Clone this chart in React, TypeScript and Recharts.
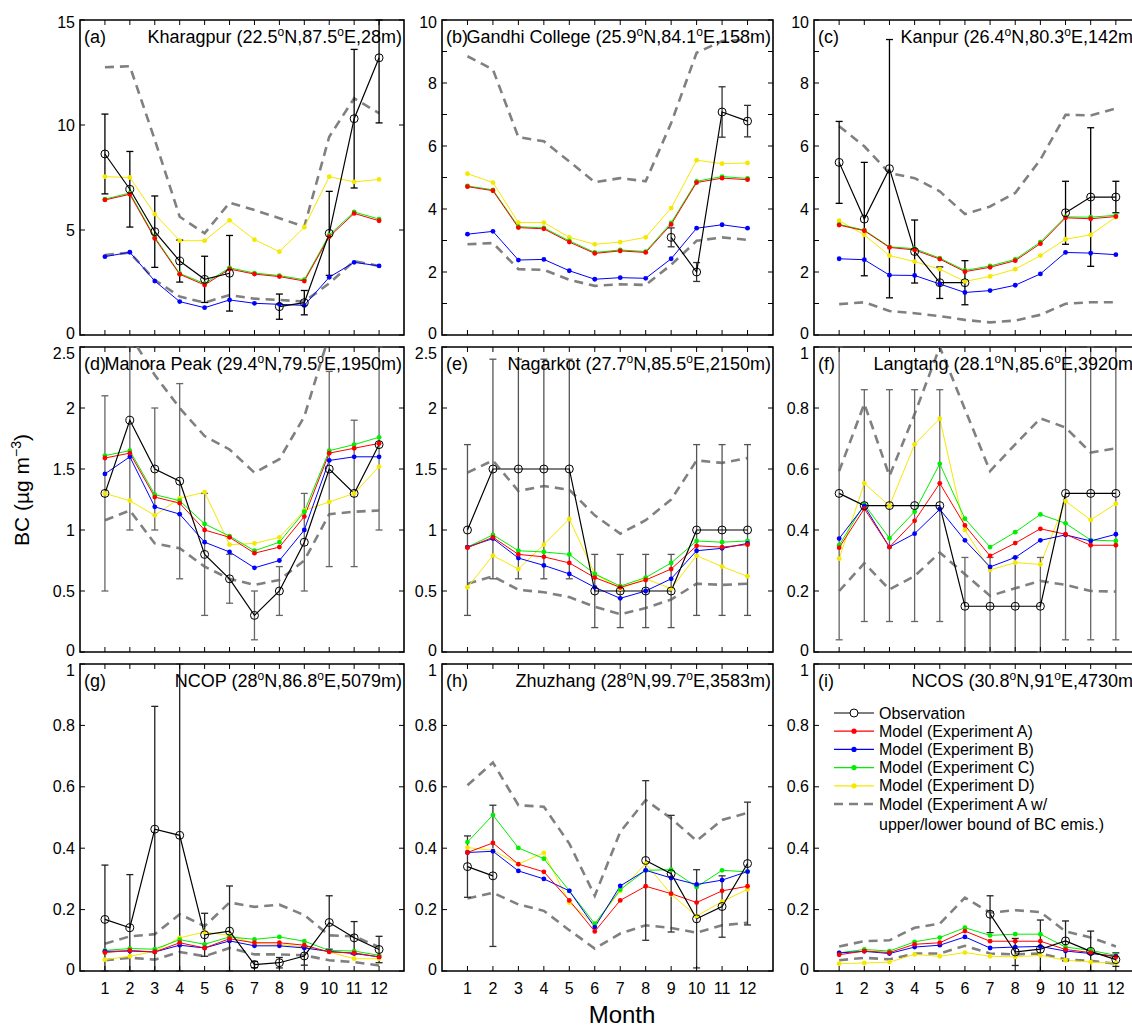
import React from "react";
import { LineChart, Line, XAxis, YAxis, ErrorBar, ReferenceArea } from "recharts";

const FONT = "'Liberation Sans', Arial, Helvetica, sans-serif";

const months = [1, 2, 3, 4, 5, 6, 7, 8, 9, 10, 11, 12];

// (a) Kharagpur
const kharagpurObs = [8.62, 6.94, 4.92, 3.52, 2.65, 2.94, null, 1.35, 1.54, 4.84, 10.3, 13.2];
const kharagpurErr = [1.9, 1.8, 1.7, 1.0, 1.1, 1.8, null, 0.6, 0.58, 2.0, 3.3, [3.1, 1.8]];
const kharagpurA = [6.43, 6.7, 4.6, 2.89, 2.38, 3.14, 2.9, 2.78, 2.57, 4.68, 5.79, 5.44];
const kharagpurB = [3.73, 3.94, 2.57, 1.59, 1.3, 1.67, 1.51, 1.46, 1.41, 2.75, 3.46, 3.29];
const kharagpurC = [6.47, 6.76, 4.66, 2.93, 2.45, 3.2, 2.95, 2.83, 2.63, 4.76, 5.86, 5.52];
const kharagpurD = [7.54, 7.5, 5.76, 4.49, 4.49, 5.46, 4.54, 3.97, 5.13, 7.54, 7.29, 7.41];
const kharagpurHi = [12.75, 12.8, 9.3, 5.63, 4.84, 6.3, 5.95, 5.56, 5.16, 9.44, 11.27, 10.56];
const kharagpurLo = [3.81, 3.92, 2.62, 1.83, 1.54, 1.9, 1.73, 1.67, 1.59, 2.46, 3.52, 3.29];

// (b) Gandhi College
const gandhiObs = [null, null, null, null, null, null, null, null, 3.1, 2.0, 7.08, 6.79];
const gandhiErr = [null, null, null, null, null, null, null, null, 0.3, 0.3, 0.8, 0.5];
const gandhiA = [4.71, 4.58, 3.41, 3.37, 2.95, 2.59, 2.67, 2.62, 3.51, 4.84, 4.98, 4.93];
const gandhiB = [3.2, 3.29, 2.38, 2.4, 2.04, 1.77, 1.82, 1.8, 2.42, 3.39, 3.5, 3.39];
const gandhiC = [4.73, 4.61, 3.44, 3.4, 2.99, 2.62, 2.7, 2.65, 3.56, 4.88, 5.03, 4.97];
const gandhiD = [5.12, 4.84, 3.57, 3.57, 3.1, 2.88, 2.95, 3.1, 4.03, 5.55, 5.44, 5.46];
const gandhiHi = [8.85, 8.43, 6.28, 6.15, 5.51, 4.85, 4.98, 4.88, 6.73, 8.96, 9.33, 9.38];
const gandhiLo = [2.88, 2.92, 2.09, 2.07, 1.75, 1.56, 1.61, 1.59, 2.23, 2.99, 3.1, 3.02];

// (c) Kanpur
const kanpurObs = [5.48, 3.68, 5.28, 2.65, 1.66, 1.66, null, null, null, 3.88, 4.38, 4.38];
const kanpurErr = [1.3, 1.8, 4.1, 1.0, 0.5, 0.7, null, null, null, 1.0, 2.2, 0.5];
const kanpurA = [3.49, 3.31, 2.78, 2.7, 2.41, 2.01, 2.15, 2.36, 2.9, 3.72, 3.69, 3.76];
const kanpurB = [2.42, 2.39, 1.9, 1.89, 1.62, 1.35, 1.41, 1.58, 1.94, 2.62, 2.6, 2.55];
const kanpurC = [3.51, 3.33, 2.8, 2.74, 2.44, 2.05, 2.19, 2.4, 2.95, 3.75, 3.74, 3.8];
const kanpurD = [3.63, 3.18, 2.52, 2.33, 2.09, 1.7, 1.86, 2.09, 2.52, 3.04, 3.18, 3.74];
const kanpurHi = [6.63, 5.99, 5.14, 4.98, 4.56, 3.84, 4.08, 4.51, 5.57, 6.99, 6.97, 7.19];
const kanpurLo = [0.98, 1.04, 0.76, 0.69, 0.6, 0.48, 0.4, 0.46, 0.64, 0.99, 1.04, 1.04];

// (d) Manora Peak
const manoraObs = [1.3, 1.9, 1.5, 1.4, 0.8, 0.6, 0.3, 0.5, 0.9, 1.5, 1.3, 1.7];
const manoraErr = [0.8, [0.9, 0.6], 0.5, 0.8, 0.5, 0.2, 0.2, 0.2, 0.4, 0.8, 0.6, [0.7, 0.8]];
const manoraA = [1.59, 1.63, 1.27, 1.22, 1.0, 0.94, 0.81, 0.86, 1.11, 1.63, 1.67, 1.71];
const manoraB = [1.46, 1.6, 1.19, 1.13, 0.9, 0.82, 0.69, 0.75, 1.0, 1.57, 1.6, 1.6];
const manoraC = [1.61, 1.65, 1.29, 1.24, 1.05, 0.95, 0.83, 0.9, 1.15, 1.65, 1.7, 1.76];
const manoraD = [1.3, 1.24, 1.12, 1.26, 1.31, 0.88, 0.89, 0.94, 1.16, 1.23, 1.3, 1.52];
const manoraHi = [2.75, 2.6, 2.27, 2.0, 1.77, 1.66, 1.47, 1.58, 1.93, 2.6, 2.8, 2.75];
const manoraLo = [1.08, 1.16, 0.89, 0.85, 0.7, 0.6, 0.55, 0.59, 0.75, 1.13, 1.15, 1.16];

// (e) Nagarkot
const nagarkotObs = [1.0, 1.5, 1.5, 1.5, 1.5, 0.5, 0.5, 0.5, 0.5, 1.0, 1.0, 1.0];
const nagarkotErr = [0.7, 0.9, 0.9, 0.9, 0.9, 0.3, 0.3, 0.3, 0.3, 0.7, 0.7, 0.7];
const nagarkotA = [0.855, 0.94, 0.8, 0.78, 0.73, 0.61, 0.53, 0.59, 0.68, 0.87, 0.86, 0.88];
const nagarkotB = [0.86, 0.93, 0.77, 0.71, 0.64, 0.53, 0.44, 0.5, 0.6, 0.83, 0.85, 0.89];
const nagarkotC = [0.86, 0.96, 0.83, 0.82, 0.8, 0.64, 0.54, 0.61, 0.73, 0.91, 0.9, 0.91];
const nagarkotD = [0.53, 0.79, 0.68, 0.88, 1.09, 0.64, 0.52, 0.6, 0.52, 0.79, 0.7, 0.62];
const nagarkotHi = [1.47, 1.57, 1.32, 1.36, 1.33, 1.12, 0.97, 1.08, 1.25, 1.57, 1.55, 1.59];
const nagarkotLo = [0.56, 0.62, 0.51, 0.49, 0.45, 0.37, 0.31, 0.36, 0.43, 0.56, 0.55, 0.56];

// (f) Langtang
const langtangObs = [0.52, 0.48, 0.48, 0.48, 0.48, 0.15, 0.15, 0.15, 0.15, 0.52, 0.52, 0.52];
const langtangErr = [0.48, 0.38, 0.38, 0.38, 0.38, [0.15, 0.16], [0.15, 0.16], [0.15, 0.16], [0.15, 0.16], 0.48, 0.48, 0.48];
const langtangA = [0.342, 0.47, 0.344, 0.43, 0.553, 0.415, 0.315, 0.357, 0.404, 0.386, 0.35, 0.35];
const langtangB = [0.372, 0.479, 0.344, 0.388, 0.468, 0.366, 0.279, 0.31, 0.366, 0.384, 0.364, 0.386];
const langtangC = [0.35, 0.484, 0.373, 0.46, 0.617, 0.437, 0.344, 0.393, 0.451, 0.422, 0.367, 0.364];
const langtangD = [0.306, 0.553, 0.479, 0.681, 0.765, 0.4, 0.269, 0.293, 0.287, 0.495, 0.433, 0.486];
const langtangHi = [0.593, 0.814, 0.577, 0.78, 1.0, 0.796, 0.593, 0.681, 0.766, 0.736, 0.654, 0.668];
const langtangLo = [0.2, 0.291, 0.205, 0.249, 0.326, 0.255, 0.184, 0.209, 0.233, 0.22, 0.2, 0.198];

// (g) NCOP
const ncopObs = [0.168, 0.141, 0.462, 0.442, 0.118, 0.13, 0.021, 0.027, 0.049, 0.158, 0.108, 0.07];
const ncopErr = [[0.168, 0.177], [0.141, 0.173], [0.462, 0.4], [0.442, 0.558], 0.07, [0.13, 0.147], 0.01, 0.017, 0.03, 0.087, 0.053, 0.043];
const ncopA = [0.06, 0.067, 0.062, 0.092, 0.075, 0.105, 0.092, 0.092, 0.084, 0.062, 0.059, 0.046];
const ncopB = [0.064, 0.065, 0.062, 0.084, 0.075, 0.098, 0.082, 0.082, 0.075, 0.064, 0.057, 0.046];
const ncopC = [0.067, 0.073, 0.071, 0.102, 0.087, 0.111, 0.103, 0.111, 0.097, 0.067, 0.065, 0.051];
const ncopD = [0.037, 0.048, 0.064, 0.108, 0.127, 0.116, 0.089, 0.087, 0.078, 0.062, 0.04, 0.04];
const ncopHi = [0.089, 0.113, 0.12, 0.185, 0.146, 0.223, 0.209, 0.216, 0.182, 0.116, 0.113, 0.078];
const ncopLo = [0.035, 0.043, 0.037, 0.062, 0.048, 0.075, 0.054, 0.054, 0.051, 0.035, 0.029, 0.018];

// (h) Zhuzhang
const zhuzhangObs = [0.34, 0.31, null, null, null, null, null, 0.36, 0.317, 0.17, 0.21, 0.35];
const zhuzhangErr = [0.1, 0.23, null, null, null, null, null, 0.26, 0.19, 0.16, 0.1, 0.2];
const zhuzhangA = [0.386, 0.417, 0.348, 0.323, 0.23, 0.129, 0.23, 0.276, 0.252, 0.223, 0.261, 0.276];
const zhuzhangB = [0.386, 0.39, 0.326, 0.3, 0.261, 0.143, 0.277, 0.328, 0.303, 0.282, 0.296, 0.324];
const zhuzhangC = [0.42, 0.508, 0.401, 0.366, 0.261, 0.154, 0.265, 0.328, 0.33, 0.274, 0.328, 0.323];
const zhuzhangD = [0.402, 0.393, 0.348, 0.385, 0.223, 0.152, 0.261, 0.35, 0.25, 0.179, 0.226, 0.266];
const zhuzhangHi = [0.605, 0.679, 0.54, 0.535, 0.415, 0.245, 0.453, 0.557, 0.497, 0.424, 0.492, 0.515];
const zhuzhangLo = [0.236, 0.255, 0.217, 0.196, 0.133, 0.073, 0.122, 0.149, 0.14, 0.125, 0.149, 0.157];

// (i) NCOS
const ncosObs = [null, null, null, null, null, null, 0.185, 0.062, 0.071, 0.098, 0.064, 0.037];
const ncosErr = [null, null, null, null, null, null, 0.06, 0.044, [0.071, 0.095], 0.065, [0.064, 0.066], 0.022];
const ncosA = [0.053, 0.065, 0.06, 0.087, 0.092, 0.13, 0.097, 0.097, 0.097, 0.07, 0.06, 0.046];
const ncosB = [0.059, 0.064, 0.057, 0.078, 0.084, 0.111, 0.075, 0.078, 0.08, 0.065, 0.057, 0.048];
const ncosC = [0.059, 0.07, 0.065, 0.095, 0.109, 0.141, 0.116, 0.12, 0.12, 0.078, 0.067, 0.051];
const ncosD = [0.024, 0.026, 0.029, 0.054, 0.048, 0.06, 0.048, 0.046, 0.051, 0.035, 0.029, 0.026];
const ncosHi = [0.08, 0.097, 0.1, 0.141, 0.154, 0.239, 0.19, 0.198, 0.192, 0.129, 0.109, 0.08];
const ncosLo = [0.035, 0.043, 0.038, 0.057, 0.057, 0.082, 0.057, 0.054, 0.057, 0.038, 0.033, 0.024];

const ticks15 = [0, 5, 10, 15];
const ticks10 = [0, 1, 2, 3, 4, 5, 6, 7, 8, 9, 10];
const labels10 = [0, 2, 4, 6, 8, 10];
const ticks25 = [0, 0.5, 1, 1.5, 2, 2.5];
const ticks1 = [0, 0.2, 0.4, 0.6, 0.8, 1];

const sites = [
  { tag: "(a)", name: "Kharagpur", lat: "22.5", lon: "87.5", alt: "28m", obs: kharagpurObs, err: kharagpurErr, a: kharagpurA, b: kharagpurB, c: kharagpurC, d: kharagpurD, hi: kharagpurHi, lo: kharagpurLo, yMax: 15, yTicks: ticks15, yLabels: ticks15, errColor: "#000" },
  { tag: "(b)", name: "Gandhi College", lat: "25.9", lon: "84.1", alt: "158m", obs: gandhiObs, err: gandhiErr, a: gandhiA, b: gandhiB, c: gandhiC, d: gandhiD, hi: gandhiHi, lo: gandhiLo, yMax: 10, yTicks: ticks10, yLabels: labels10, errColor: "#333" },
  { tag: "(c)", name: "Kanpur", lat: "26.4", lon: "80.3", alt: "142m", obs: kanpurObs, err: kanpurErr, a: kanpurA, b: kanpurB, c: kanpurC, d: kanpurD, hi: kanpurHi, lo: kanpurLo, yMax: 10, yTicks: ticks10, yLabels: labels10, errColor: "#000" },
  { tag: "(d)", name: "Manora Peak", lat: "29.4", lon: "79.5", alt: "1950m", obs: manoraObs, err: manoraErr, a: manoraA, b: manoraB, c: manoraC, d: manoraD, hi: manoraHi, lo: manoraLo, yMax: 2.5, yTicks: ticks25, yLabels: ticks25, errColor: "#666" },
  { tag: "(e)", name: "Nagarkot", lat: "27.7", lon: "85.5", alt: "2150m", obs: nagarkotObs, err: nagarkotErr, a: nagarkotA, b: nagarkotB, c: nagarkotC, d: nagarkotD, hi: nagarkotHi, lo: nagarkotLo, yMax: 2.5, yTicks: ticks25, yLabels: ticks25, errColor: "#555" },
  { tag: "(f)", name: "Langtang", lat: "28.1", lon: "85.6", alt: "3920m", obs: langtangObs, err: langtangErr, a: langtangA, b: langtangB, c: langtangC, d: langtangD, hi: langtangHi, lo: langtangLo, yMax: 1, yTicks: ticks1, yLabels: ticks1, errColor: "#666" },
  { tag: "(g)", name: "NCOP", lat: "28", lon: "86.8", alt: "5079m", obs: ncopObs, err: ncopErr, a: ncopA, b: ncopB, c: ncopC, d: ncopD, hi: ncopHi, lo: ncopLo, yMax: 1, yTicks: ticks1, yLabels: ticks1, errColor: "#222" },
  { tag: "(h)", name: "Zhuzhang", lat: "28", lon: "99.7", alt: "3583m", obs: zhuzhangObs, err: zhuzhangErr, a: zhuzhangA, b: zhuzhangB, c: zhuzhangC, d: zhuzhangD, hi: zhuzhangHi, lo: zhuzhangLo, yMax: 1, yTicks: ticks1, yLabels: ticks1, errColor: "#333" },
  { tag: "(i)", name: "NCOS", lat: "30.8", lon: "91", alt: "4730m", obs: ncosObs, err: ncosErr, a: ncosA, b: ncosB, c: ncosC, d: ncosD, hi: ncosHi, lo: ncosLo, yMax: 1, yTicks: ticks1, yLabels: ticks1, errColor: "#222" },
];

// plot boxes (pixels on the page)
const COLS = [
  { left: 80, width: 324 },
  { left: 442, width: 331 },
  { left: 814, width: 327 },
];
const ROWS = [
  { top: 20, height: 315 },
  { top: 347, height: 305 },
  { top: 664, height: 307 },
];
const YW = 44;
const PAD = 14;
const TICK = 5;

const RED = "#ff0000";
const BLUE = "#0000ff";
const GREEN = "#00ee00";
const YELLOW = "#f5e800";
const GREY = "#808080";

function YTick(props: any) {
  const { y, payload, l, r, labels, yMax, row } = props;
  const v = payload.value;
  // matlab nudges the end labels inside the box
  const dy = v === yMax ? (row === 0 ? 2 : 6) : v === 0 ? -2 : 0;
  return (
    <g>
      <line x1={l} x2={l + TICK} y1={y} y2={y} stroke="#000" strokeWidth={1} />
      <line x1={r - TICK} x2={r} y1={y} y2={y} stroke="#000" strokeWidth={1} />
      {labels.includes(v) && (
        <text x={l - 5} y={y + dy} textAnchor="end" dominantBaseline="central" fontSize={16} fontFamily={FONT} fill="#000">
          {String(v)}
        </text>
      )}
    </g>
  );
}

function XTick(props: any) {
  const { x, payload, t, b, show } = props;
  return (
    <g>
      <line x1={x} x2={x} y1={b} y2={b - TICK} stroke="#000" strokeWidth={1} />
      <line x1={x} x2={x} y1={t} y2={t + TICK} stroke="#000" strokeWidth={1} />
      {show && (
        <text x={x} y={b + 17} textAnchor="middle" dominantBaseline="central" fontSize={16} fontFamily={FONT} fill="#000">
          {payload.value}
        </text>
      )}
    </g>
  );
}

function Sup({ children }: { children: React.ReactNode }) {
  return <span style={{ fontSize: 12, position: "relative", top: -7 }}>{children}</span>;
}

function Panel({ site, col, row }: { site: any; col: number; row: number }) {
  const { left, width } = COLS[col];
  const { top, height } = ROWS[row];
  const showX = row === 2;
  const xh = showX ? 30 : PAD;
  const data = months.map((m, i) => ({
    month: m,
    obs: site.obs[i],
    err: site.err[i],
    a: site.a[i],
    b: site.b[i],
    c: site.c[i],
    d: site.d[i],
    hi: site.hi[i],
    lo: site.lo[i],
  }));
  const l = YW;
  const r = YW + width;
  const t = PAD;
  const b = PAD + height;
  const w = YW + width + PAD;
  const h = PAD + height + xh;
  const modelDot = (color: string) => ({ r: 2.4, fill: color, stroke: color, strokeWidth: 0 });
  return (
    <div style={{ position: "absolute", left: left - YW, top: top - PAD, width: w, height: h }}>
      <LineChart width={w} height={h} data={data} margin={{ top: PAD, right: PAD, bottom: 0, left: 0 }}>
        <XAxis
          type="number"
          dataKey="month"
          domain={[0, 13]}
          ticks={months}
          interval={0}
          axisLine={false}
          tickLine={false}
          height={xh}
          tick={(p: any) => <XTick {...p} t={t} b={b} show={showX} />}
        />
        <YAxis
          type="number"
          domain={[0, site.yMax]}
          ticks={site.yTicks}
          interval={0}
          allowDataOverflow
          axisLine={false}
          tickLine={false}
          width={YW}
          tick={(p: any) => <YTick {...p} l={l} r={r} labels={site.yLabels} yMax={site.yMax} row={row} />}
        />
        <ReferenceArea x1={0} x2={13} y1={0} y2={site.yMax} fill="none" stroke="#000" strokeWidth={1.6} ifOverflow="visible" />
        <Line type="linear" dataKey="hi" stroke={GREY} strokeWidth={2.6} strokeDasharray="9 6" dot={false} activeDot={false} isAnimationActive={false} />
        <Line type="linear" dataKey="lo" stroke={GREY} strokeWidth={2.6} strokeDasharray="9 6" dot={false} activeDot={false} isAnimationActive={false} />
        <Line type="linear" dataKey="d" stroke={YELLOW} strokeWidth={1} dot={modelDot(YELLOW)} activeDot={false} isAnimationActive={false} />
        <Line type="linear" dataKey="c" stroke={GREEN} strokeWidth={1} dot={modelDot(GREEN)} activeDot={false} isAnimationActive={false} />
        <Line type="linear" dataKey="b" stroke={BLUE} strokeWidth={1} dot={modelDot(BLUE)} activeDot={false} isAnimationActive={false} />
        <Line type="linear" dataKey="a" stroke={RED} strokeWidth={1} dot={modelDot(RED)} activeDot={false} isAnimationActive={false} />
        <Line
          type="linear"
          dataKey="obs"
          stroke="#000"
          strokeWidth={1.2}
          dot={{ r: 4, fill: "none", stroke: "#000", strokeWidth: 1 }}
          activeDot={false}
          isAnimationActive={false}
        >
          <ErrorBar dataKey="err" direction="y" width={3.5} stroke={site.errColor} strokeWidth={1.3} />
        </Line>
      </LineChart>
      <div style={{ position: "absolute", left: l + 4, top: t + 7, fontSize: 18, lineHeight: "20px", fontFamily: FONT, whiteSpace: "nowrap" }}>
        {site.tag}
      </div>
      <div style={{ position: "absolute", right: PAD + 2, top: t + 7, fontSize: 18, lineHeight: "20px", fontFamily: FONT, whiteSpace: "nowrap" }}>
        {site.name} ({site.lat}
        <Sup>o</Sup>N,{site.lon}
        <Sup>o</Sup>E,{site.alt})
      </div>
    </div>
  );
}

const legendItems = [
  { label: "Observation", color: "#000", kind: "obs" },
  { label: "Model (Experiment A)", color: RED, kind: "model" },
  { label: "Model (Experiment B)", color: BLUE, kind: "model" },
  { label: "Model (Experiment C)", color: GREEN, kind: "model" },
  { label: "Model (Experiment D)", color: YELLOW, kind: "model" },
  { label: "Model (Experiment A w/", color: GREY, kind: "dash" },
];

function LegendBox() {
  const x0 = 833;
  const y0 = 700;
  return (
    <svg style={{ position: "absolute", left: x0, top: y0 }} width={300} height={140}>
      {legendItems.map((it, i) => {
        const y = 13 + i * 18.2;
        return (
          <g key={it.label}>
            <line
              x1={1}
              x2={41}
              y1={y}
              y2={y}
              stroke={it.color}
              strokeWidth={it.kind === "dash" ? 2.6 : 1.2}
              strokeDasharray={it.kind === "dash" ? "9 6" : undefined}
            />
            {it.kind === "obs" && <circle cx={21} cy={y} r={4} fill="#fff" stroke="#000" strokeWidth={1} />}
            {it.kind === "model" && <circle cx={21} cy={y} r={2.6} fill={it.color} />}
            <text x={46} y={y} dominantBaseline="central" fontSize={16} fontFamily={FONT} fill="#000">
              {it.label}
            </text>
          </g>
        );
      })}
      <text x={46} y={13 + 5 * 18.2 + 20} dominantBaseline="central" fontSize={16} fontFamily={FONT} fill="#000">
        upper/lower bound of BC emis.)
      </text>
    </svg>
  );
}

export default function App() {
  return (
    <div
      style={{
        position: "absolute",
        left: 0,
        top: 0,
        width: 1132,
        height: 1029,
        overflow: "hidden",
        background: "#fff",
        fontFamily: FONT,
      }}
    >
      {sites.map((s, i) => (
        <Panel key={s.tag} site={s} col={i % 3} row={Math.floor(i / 3)} />
      ))}
      <LegendBox />
      <div
        style={{
          position: "absolute",
          left: 22,
          top: 490,
          transform: "translate(-50%, -50%) rotate(-90deg)",
          fontSize: 21,
          whiteSpace: "nowrap",
        }}
      >
        BC (µg m<span style={{ fontSize: 14, position: "relative", top: -8 }}>−3</span>)
      </div>
      <div
        style={{
          position: "absolute",
          left: 622,
          top: 1015,
          transform: "translate(-50%, -50%)",
          fontSize: 24,
          whiteSpace: "nowrap",
        }}
      >
        Month
      </div>
    </div>
  );
}
